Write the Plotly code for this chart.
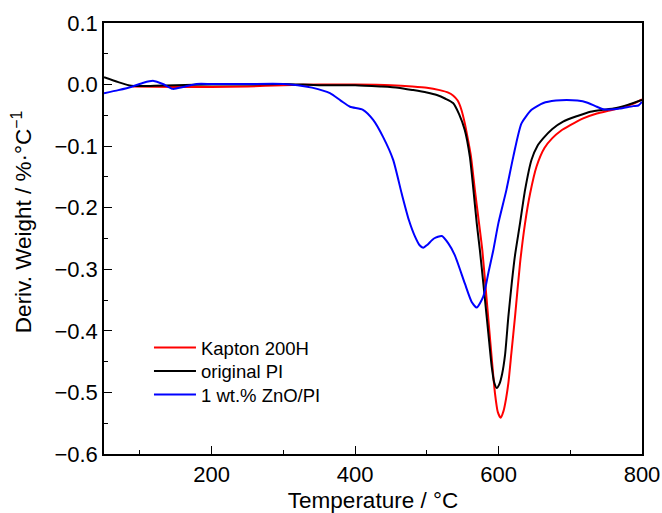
import plotly.graph_objects as go

# Kapton 200H (red)
kap_x = [90, 150, 200, 250, 300, 350, 400, 450, 480, 500, 518, 530, 537, 543, 548, 553, 557.5, 561.6, 567, 572.8, 577.4, 583.5, 589.5, 595, 599, 603, 607, 610.5, 613.7, 618, 623, 630, 637, 644, 653, 664, 675, 687, 700, 718, 737, 755, 775, 790, 800]
kap_y = [-0.003, -0.004, -0.004, -0.003, -0.001, 0.000, 0.000, -0.001, -0.003, -0.005, -0.009, -0.013, -0.018, -0.026, -0.040, -0.063, -0.090, -0.117, -0.171, -0.225, -0.269, -0.350, -0.431, -0.501, -0.532, -0.541, -0.530, -0.510, -0.485, -0.435, -0.377, -0.290, -0.225, -0.177, -0.133, -0.103, -0.087, -0.075, -0.066, -0.055, -0.047, -0.042, -0.036, -0.030, -0.024]

# original PI (black)
pi_x = [50, 70, 88, 120, 150, 200, 250, 300, 350, 400, 435, 460, 481, 500, 514, 526, 536.6, 545, 553, 560, 565, 569.6, 574, 578.8, 585.8, 590.5, 594, 597.5, 601, 605, 609, 613.7, 618.4, 623, 630, 637, 646, 654, 662.5, 675, 690, 710, 728, 745, 760, 780, 800]
pi_y = [0.012, 0.004, -0.002, -0.002, -0.001, 0.000, 0.000, 0.001, -0.001, -0.001, -0.003, -0.005, -0.009, -0.013, -0.017, -0.023, -0.030, -0.048, -0.074, -0.117, -0.171, -0.225, -0.269, -0.323, -0.404, -0.458, -0.484, -0.493, -0.487, -0.470, -0.440, -0.377, -0.323, -0.277, -0.225, -0.171, -0.122, -0.100, -0.087, -0.072, -0.060, -0.051, -0.044, -0.041, -0.039, -0.033, -0.025]

# 1 wt.% ZnO/PI (blue)
zno_x = [50, 70, 90, 105, 119, 132, 146, 160, 179, 200, 250, 300, 320, 340, 365, 380, 393, 411, 425, 439, 453, 465, 475, 483.6, 490, 495, 501, 510, 521, 530, 539, 553, 562.6, 569.6, 578.8, 585.8, 592.7, 599.8, 611, 620.6, 632, 646, 662.5, 680, 695, 710, 723, 735, 746, 760, 769, 787.5, 795, 800]
zno_y = [-0.014, -0.009, -0.003, 0.003, 0.006, 0.001, -0.007, -0.004, 0.001, 0.001, 0.001, 0.001, -0.001, -0.005, -0.014, -0.026, -0.036, -0.041, -0.057, -0.085, -0.122, -0.177, -0.220, -0.247, -0.261, -0.265, -0.260, -0.250, -0.246, -0.258, -0.277, -0.323, -0.353, -0.362, -0.344, -0.306, -0.269, -0.225, -0.171, -0.117, -0.063, -0.041, -0.030, -0.026, -0.025, -0.026, -0.029, -0.035, -0.040, -0.040, -0.039, -0.035, -0.034, -0.028]

series_names = ["Kapton 200H", "original PI", "1 wt.% ZnO/PI"]
series_colors = ["#ff0000", "#000000", "#0000ff"]

FONT = "Arial, Liberation Sans, sans-serif"

fig = go.Figure()
legend_ids = ["legend", "legend2", "legend3"]
for (xs, ys), name, color, lg in zip([(kap_x, kap_y), (pi_x, pi_y), (zno_x, zno_y)],
                                     series_names, series_colors, legend_ids):
    fig.add_trace(go.Scatter(x=xs, y=ys, mode="lines", name=name, legend=lg,
                             line=dict(color=color, width=2, shape="spline", smoothing=0.6)))

axis_common = dict(showline=True, linecolor="black", linewidth=1.5, mirror=True,
                   ticks="inside", ticklen=8, tickwidth=1.2, tickcolor="black",
                   showgrid=False, zeroline=False, automargin=False,
                   tickfont=dict(family=FONT, size=22, color="black"))

fig.update_xaxes(range=[50, 800], tick0=0, dtick=200,
                 minor=dict(ticks="inside", ticklen=4, dtick=100, tick0=0, tickcolor="black"),
                 title=dict(text="Temperature / °C", font=dict(family=FONT, size=22.5, color="black"), standoff=10),
                 **axis_common)
fig.update_yaxes(range=[-0.6, 0.1], tick0=0, dtick=0.1, tickformat=".1f",
                 minor=dict(ticks="inside", ticklen=4, dtick=0.05, tick0=0, tickcolor="black"),
                 **axis_common)

fig.add_annotation(text="Deriv. Weight / %·°C<sup>−1</sup>", textangle=-90,
                   xref="paper", yref="paper", x=-0.1524, y=0.538,
                   xanchor="center", yanchor="middle", showarrow=False,
                   font=dict(family=FONT, size=22.5, color="black"))

legend_common = dict(x=0.0836, xanchor="left", yanchor="top",
                     bgcolor="rgba(0,0,0,0)", font=dict(family=FONT, size=18.5, color="black"),
                     itemwidth=42)

fig.update_layout(
    width=662, height=513,
    margin=dict(l=104, r=20, t=23, b=59),
    plot_bgcolor="white", paper_bgcolor="white",
    showlegend=True,
    legend=dict(y=0.290, **legend_common),
    legend2=dict(y=0.2355, **legend_common),
    legend3=dict(y=0.181, **legend_common),
)

fig.write_html("out.html")
